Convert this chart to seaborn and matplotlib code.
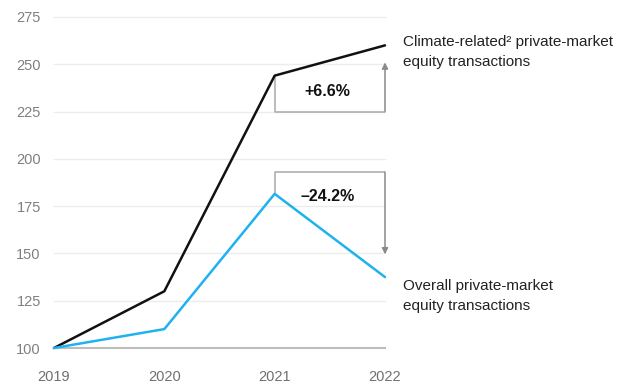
import matplotlib
matplotlib.use("Agg")
import matplotlib.pyplot as plt
import seaborn as sns
import pandas as pd

years = [2019, 2020, 2021, 2022]
climate = [100, 130, 244, 260]
overall = [100, 110, 181.5, 137.5]
y_ticks = [100, 125, 150, 175, 200, 225, 250, 275]
climate_label = "Climate-related\u00b2 private-market\nequity transactions"
overall_label = "Overall private-market\nequity transactions"
climate_change = "+6.6%"
overall_change = "\u201324.2%"

sns.set_theme(style="white")
plt.rcParams["font.family"] = ["Liberation Sans", "DejaVu Sans"]

df = pd.DataFrame({
    "year": years * 2,
    "index": climate + overall,
    "series": ["climate"] * 4 + ["overall"] * 4,
})

fig = plt.figure(figsize=(6.21, 3.84), dpi=100)
ax = fig.add_axes([54 / 621, 1 - 348 / 384, (385 - 54) / 621, (348 - 17) / 384])

grid_c = "#ececec"
for t in y_ticks[1:]:
    ax.axhline(t, color=grid_c, lw=1.0, zorder=0)

sns.lineplot(data=df, x="year", y="index", hue="series",
             palette={"climate": "#111111", "overall": "#1fb1f0"},
             lw=1.8, legend=False, ax=ax, zorder=3)
for line in ax.lines:
    line.set_clip_on(False)

ax.set_xlim(years[0], years[-1])
ax.set_ylim(y_ticks[0], y_ticks[-1])
ax.set_xticks(years)
ax.set_xticklabels([str(y) for y in years])
ax.set_yticks(y_ticks)
ax.set_xlabel("")
ax.set_ylabel("")
for s in ["left", "right", "top"]:
    ax.spines[s].set_visible(False)
ax.spines["bottom"].set_color("#bdbdbd")
ax.spines["bottom"].set_linewidth(1.5)
ax.tick_params(axis="x", colors="#bdbdbd", length=6, width=1.2, direction="out",
               labelcolor="#707070", labelsize=10.5, pad=10)
ax.tick_params(axis="y", length=0, labelcolor="#808080", labelsize=10.5, pad=9.5)

# Bracket showing the change from 2021 to 2022 (climate-related)
box_c = "#a9a9a9"
x0, x1 = years[2], years[3]
ax.plot([x0, x0, x1], [climate[2], 225, 225], color=box_c, lw=1.1, zorder=2)
ax.annotate("", xy=(x1, 251), xytext=(x1, 225),
            arrowprops=dict(arrowstyle="-|>", color="#8a8a8a", lw=1.1,
                            mutation_scale=9, shrinkA=0, shrinkB=0))
ax.text((x0 + x1) / 2 - 0.02, 235.5, climate_change, ha="center", va="center",
        fontsize=11.5, fontweight="bold", color="#111111")

# Bracket showing the change from 2021 to 2022 (overall)
top = 193
ax.plot([x0, x0, x1], [overall[2], top, top], color=box_c, lw=1.1, zorder=2)
ax.annotate("", xy=(x1, 149.5), xytext=(x1, top),
            arrowprops=dict(arrowstyle="-|>", color="#8a8a8a", lw=1.1,
                            mutation_scale=9, shrinkA=0, shrinkB=0))
ax.text((x0 + x1) / 2 - 0.02, 180, overall_change, ha="center", va="center",
        fontsize=11.5, fontweight="bold", color="#111111")

# Series labels to the right of the plot
ax.text(3.165 + 2019, 256.5, climate_label, ha="left", va="center",
        fontsize=11, color="#222222", linespacing=1.6)
ax.text(3.165 + 2019, 127.5, overall_label, ha="left", va="center",
        fontsize=11, color="#222222", linespacing=1.6)

fig.savefig("out.png", dpi=100)
